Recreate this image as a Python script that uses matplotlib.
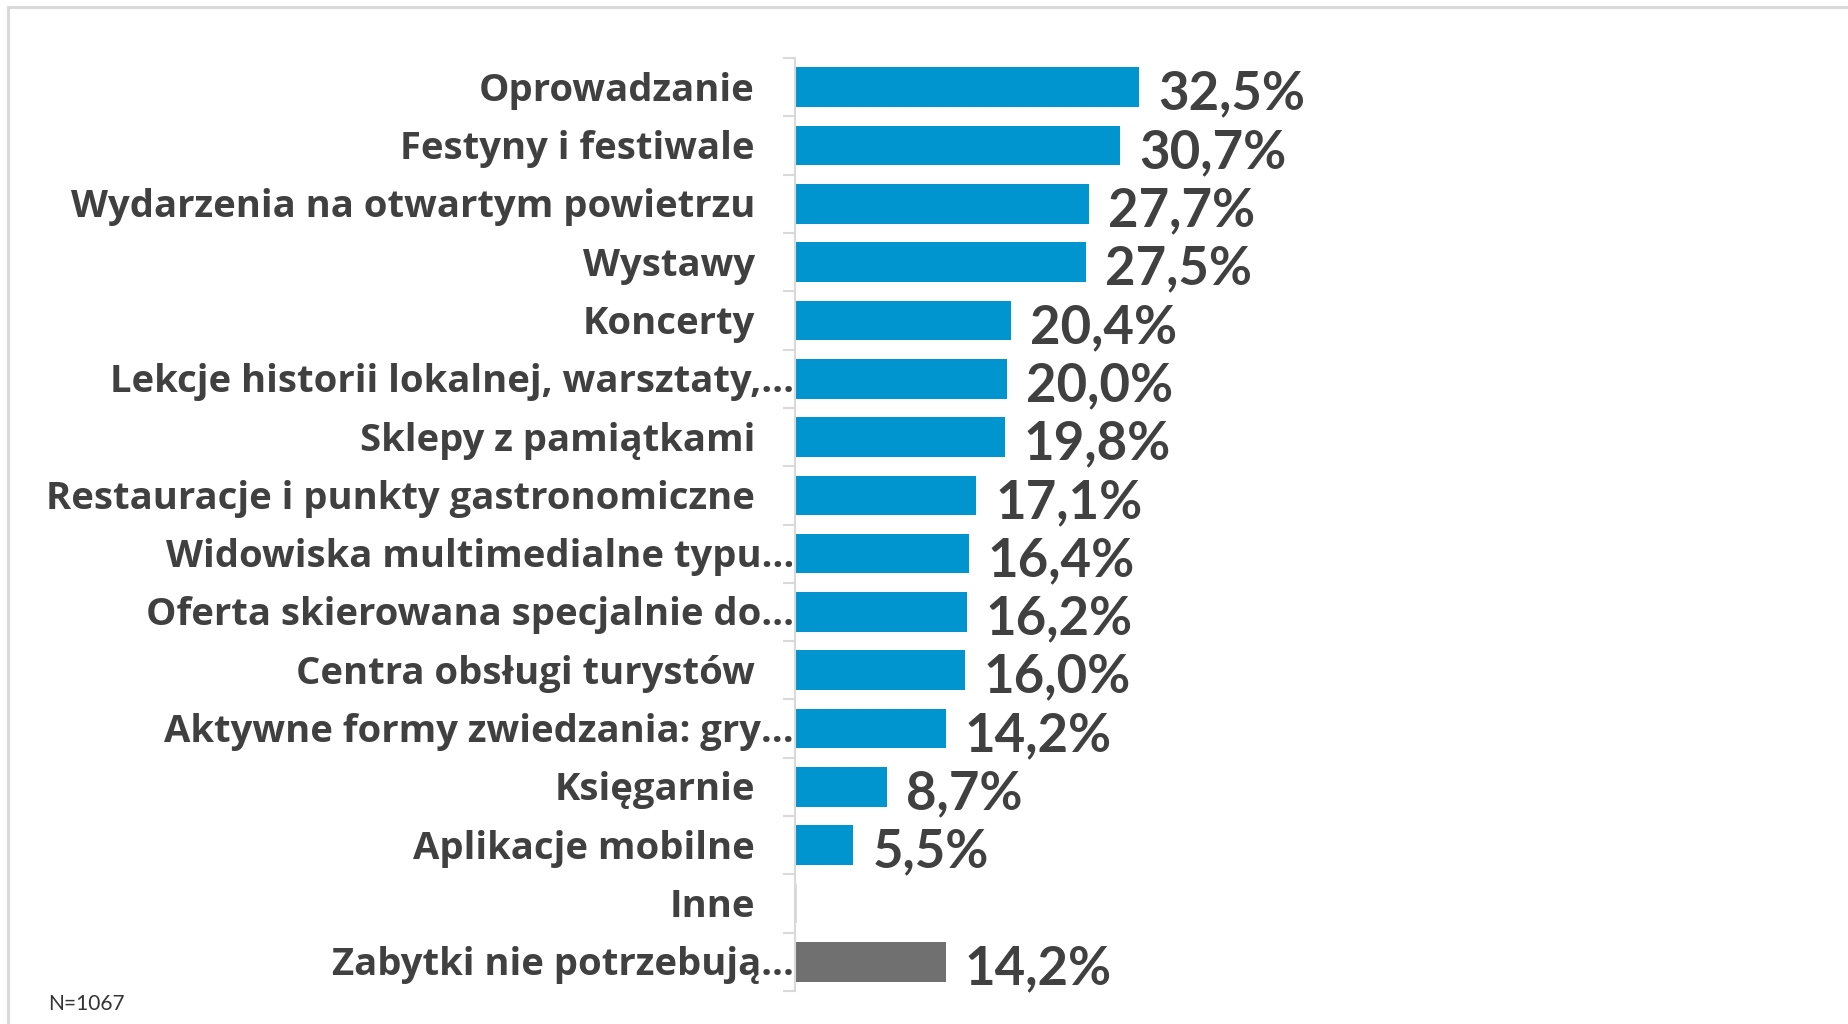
import matplotlib
matplotlib.use("Agg")
import matplotlib.pyplot as plt
from matplotlib.lines import Line2D
from matplotlib.transforms import blended_transform_factory, offset_copy

categories = [
    "Oprowadzanie",
    "Festyny i festiwale",
    "Wydarzenia na otwartym powietrzu",
    "Wystawy",
    "Koncerty",
    "Lekcje historii lokalnej, warsztaty,…",
    "Sklepy z pamiątkami",
    "Restauracje i punkty gastronomiczne",
    "Widowiska multimedialne typu…",
    "Oferta skierowana specjalnie do…",
    "Centra obsługi turystów",
    "Aktywne formy zwiedzania: gry…",
    "Księgarnie",
    "Aplikacje mobilne",
    "Inne",
    "Zabytki nie potrzebują…",
]
values = [32.5, 30.7, 27.7, 27.5, 20.4, 20.0, 19.8, 17.1, 16.4, 16.2, 16.0, 14.2, 8.7, 5.5, 0.2, 14.2]
value_labels = ["32,5%", "30,7%", "27,7%", "27,5%", "20,4%", "20,0%", "19,8%", "17,1%",
                "16,4%", "16,2%", "16,0%", "14,2%", "8,7%", "5,5%", "", "14,2%"]
truncated = [c.endswith("…") for c in categories]
note = "N=1067"

BLUE = "#0095CE"
GRAY = "#707070"
LIGHT = "#d9d9d9"
TEXT = "#404040"

W, H, DPI = 1849, 1024, 100
fig = plt.figure(figsize=(W / DPI, H / DPI), dpi=DPI)
fig.patch.set_facecolor("white")

ax_left, ax_right = 795, 1800
ax_top, ax_bot = 58, 991
ax = fig.add_axes([ax_left / W, 1 - ax_bot / H, (ax_right - ax_left) / W, (ax_bot - ax_top) / H])

px_per_pct = 10.6
xmax = (ax_right - ax_left) / px_per_pct
n = len(categories)
ypos = list(range(n))
colors = [BLUE] * n
colors[-1] = GRAY
colors[14] = LIGHT

ax.barh(ypos, values, height=0.68, color=colors, zorder=2)
ax.set_xlim(0, xmax)
ax.set_ylim(n - 0.5, -0.5)

for s in ["top", "right", "bottom"]:
    ax.spines[s].set_visible(False)
ax.spines["left"].set_color(LIGHT)
ax.spines["left"].set_linewidth(1.5)
ax.set_xticks([])
ax.set_yticks([i - 0.5 for i in range(n + 1)])
ax.set_yticklabels([])
ax.tick_params(axis="y", length=9, width=1.5, color=LIGHT, direction="out")

# category labels
trans = blended_transform_factory(ax.transAxes, ax.transData)
for i, (cat, tr) in enumerate(zip(categories, truncated)):
    pad_px = 1 if tr else 40
    t = offset_copy(trans, fig=fig, x=-pad_px * 72 / DPI, y=-13.5 * 72 / DPI, units="points")
    ax.text(0, i, cat, transform=t, ha="right", va="baseline",
            fontsize=27.5, fontweight="bold", family=["Open Sans", "DejaVu Sans"], color=TEXT)

# value labels
for i, (v, lab) in enumerate(zip(values, value_labels)):
    if not lab:
        continue
    ax.annotate(lab, xy=(v, i), xytext=(19 * 72 / DPI, -22.5 * 72 / DPI), textcoords="offset points",
                ha="left", va="baseline", fontsize=38, fontweight="bold",
                family=["Lato", "DejaVu Sans"], color=TEXT, annotation_clip=False)

# note
fig.text(48 / W, 1 - 1010 / H, note, ha="left", va="baseline", fontsize=15,
         family=["Lato", "DejaVu Sans"], color="#333333")

# frame border (top and left)
fig.add_artist(Line2D([8 / W, 1], [1 - 7 / H, 1 - 7 / H], transform=fig.transFigure, color=LIGHT, lw=2.2))
fig.add_artist(Line2D([8 / W, 8 / W], [1 - 7 / H, 0], transform=fig.transFigure, color=LIGHT, lw=2.2))

fig.savefig("out.png", dpi=DPI, facecolor="white")
